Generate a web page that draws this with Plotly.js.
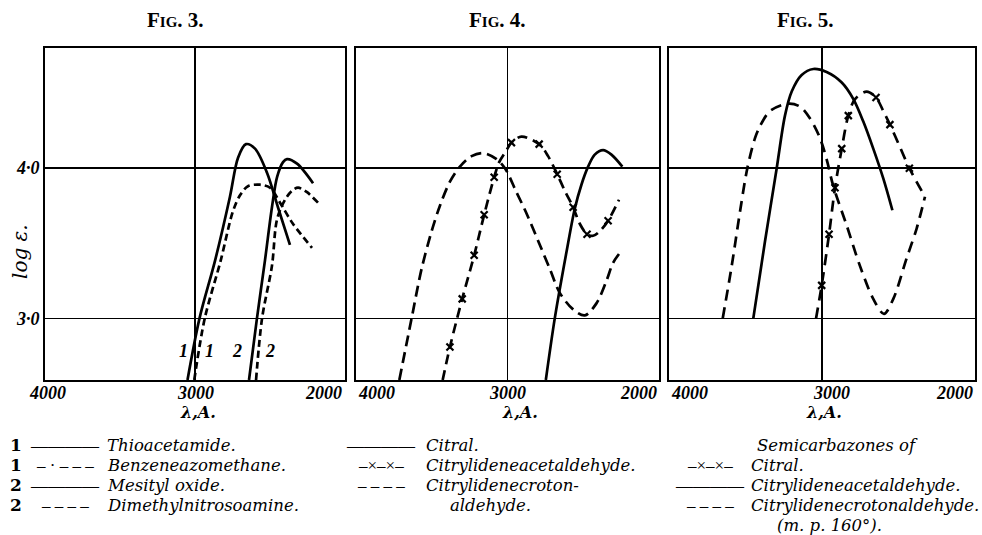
<!DOCTYPE html>
<html>
<head>
<meta charset="utf-8">
<script src="https://cdn.plot.ly/plotly-3.0.1.min.js"></script>
<style>
html,body{margin:0;padding:0;background:#fff;}
#chart{width:982px;height:535px;}
</style>
</head>
<body>
<div id="chart"></div>
<script>
// ---------------- DATA ----------------
// Fig. 3
const fig3Title = "Fig. 3.";
const thioacetamideX = [3050, 2970, 2865, 2767, 2713, 2660, 2600, 2520, 2447, 2367];
const thioacetamideY = [2.59, 3.00, 3.39, 3.81, 4.07, 4.16, 4.13, 3.97, 3.74, 3.49];
const benzeneazoX = [3005, 2935, 2830, 2748, 2700, 2647, 2567, 2500, 2433, 2347, 2220];
const benzeneazoY = [2.59, 3.00, 3.38, 3.71, 3.82, 3.88, 3.89, 3.87, 3.77, 3.63, 3.47];
const mesitylX = [2640, 2587, 2533, 2487, 2453, 2413, 2387, 2320, 2213];
const mesitylY = [2.59, 3.00, 3.39, 3.74, 3.94, 4.04, 4.06, 4.03, 3.90];
const dimethylX = [2593, 2553, 2487, 2453, 2400, 2353, 2313, 2253, 2180];
const dimethylY = [2.59, 3.00, 3.35, 3.66, 3.79, 3.85, 3.87, 3.84, 3.77];
const fig3CurveLabels = ["1", "1", "2", "2"];
const fig3CurveLabelX = [3078, 2905, 2722, 2500];
const fig3CurveLabelY = [2.78, 2.78, 2.78, 2.78];

// Fig. 4
const fig4Title = "Fig. 4.";
const citralX = [2747, 2688, 2611, 2556, 2512, 2468, 2424, 2369, 2314, 2242];
const citralY = [2.59, 3.00, 3.44, 3.73, 3.89, 4.01, 4.09, 4.12, 4.09, 4.01];
const acetaldX = [3428, 3380, 3299, 3220, 3154, 3088, 3055, 3006, 2974, 2908, 2791, 2732, 2672, 2622, 2567, 2523, 2475, 2435, 2391, 2336, 2264];
const acetaldY = [2.59, 2.81, 3.13, 3.42, 3.69, 3.94, 4.04, 4.12, 4.17, 4.21, 4.16, 4.08, 3.96, 3.85, 3.74, 3.63, 3.56, 3.55, 3.58, 3.65, 3.79];
const acetaldMarkX = [3380, 3299, 3220, 3154, 3088, 2974, 2791, 2672, 2567, 2475, 2336];
const acetaldMarkY = [2.81, 3.13, 3.42, 3.69, 3.94, 4.17, 4.16, 3.96, 3.74, 3.56, 3.65];
const crotonX = [3714, 3633, 3567, 3501, 3446, 3380, 3314, 3237, 3160, 3072, 3017, 2941, 2875, 2787, 2721, 2655, 2567, 2490, 2413, 2347, 2303, 2248];
const crotonY = [2.59, 3.00, 3.33, 3.58, 3.75, 3.91, 4.01, 4.08, 4.10, 4.06, 4.00, 3.84, 3.70, 3.49, 3.33, 3.17, 3.06, 3.02, 3.10, 3.25, 3.37, 3.45];

// Fig. 5 (semicarbazones)
const fig5Title = "Fig. 5.";
const semCitralX = [3039, 3002, 2954, 2915, 2871, 2828, 2784, 2708, 2647, 2599, 2556, 2490, 2429, 2327];
const semCitralY = [3.00, 3.22, 3.56, 3.87, 4.13, 4.35, 4.46, 4.51, 4.47, 4.38, 4.29, 4.14, 4.00, 3.81];
const semCitralMarkX = [3002, 2954, 2915, 2871, 2828, 2647, 2556, 2429];
const semCitralMarkY = [3.22, 3.56, 3.87, 4.13, 4.35, 4.47, 4.29, 4.00];
const semAcetaldX = [3449, 3373, 3296, 3242, 3198, 3133, 3057, 2970, 2871, 2795, 2730, 2665, 2599, 2540];
const semAcetaldY = [3.00, 3.51, 4.00, 4.35, 4.51, 4.62, 4.66, 4.64, 4.57, 4.46, 4.31, 4.13, 3.93, 3.72];
const semCrotonX = [3649, 3590, 3536, 3488, 3438, 3405, 3340, 3220, 3144, 3078, 3013, 2970, 2926, 2839, 2752, 2665, 2595, 2534, 2447, 2381, 2327];
const semCrotonY = [3.00, 3.35, 3.71, 4.00, 4.20, 4.28, 4.38, 4.43, 4.41, 4.33, 4.20, 4.06, 3.88, 3.62, 3.35, 3.13, 3.03, 3.13, 3.40, 3.60, 3.81];

// Axes labels
const xTickVals = [4000, 3000, 2000];
const xTickText = ["4000", "3000", "2000"];
const yTickVals = [3, 4];
const yTickText = ["3·0", "4·0"];
const xAxisLabel = "λ,A.";
const yAxisLabel = "log ε.";

// Legend texts
const fig3Legend = [
  ["1", "————", "Thioacetamide."],
  ["1", "– · – – –", "Benzeneazomethane."],
  ["2", "————", "Mesityl oxide."],
  ["2", "– – – –", "Dimethylnitrosoamine."]
];
const fig4Legend = [
  ["————", "Citral."],
  ["–×–×–", "Citrylideneacetaldehyde."],
  ["– – – –", "Citrylidenecroton-"],
  ["", "aldehyde."]
];
const fig5Legend = [
  ["", "Semicarbazones of"],
  ["–×–×–", "Citral."],
  ["————", "Citrylideneacetaldehyde."],
  ["– – – –", "Citrylidenecrotonaldehyde."],
  ["", "(m. p. 160°)."]
];

// ---------------- STYLE / LAYOUT ----------------
const W = 982, H = 535;
const PX = x => x / W;
const PY = y => 1 - y / H;
const SERIF = "Liberation Serif, Times New Roman, serif";
const WSERIF = "DejaVu Serif, serif";
const LW = 2.7;

function line(x, y, xa, ya, dash) {
  return {x: x, y: y, xaxis: xa, yaxis: ya, mode: 'lines', type: 'scatter',
    line: {color: '#000', width: LW, dash: dash || 'solid', shape: 'spline', smoothing: 0.9},
    hoverinfo: 'skip', showlegend: false};
}
function marks(x, y, xa, ya) {
  return {x: x, y: y, xaxis: xa, yaxis: ya, mode: 'markers', type: 'scatter',
    marker: {symbol: 'x-thin', size: 7, color: '#000', line: {color: '#000', width: 2.2}},
    hoverinfo: 'skip', showlegend: false};
}

const data = [
  line(thioacetamideX, thioacetamideY, 'x', 'y'),
  line(benzeneazoX, benzeneazoY, 'x', 'y', '7px,4px'),
  line(mesitylX, mesitylY, 'x', 'y'),
  line(dimethylX, dimethylY, 'x', 'y', '7px,4px'),
  line(citralX, citralY, 'x2', 'y2'),
  line(acetaldX, acetaldY, 'x2', 'y2', '10px,6px'),
  marks(acetaldMarkX, acetaldMarkY, 'x2', 'y2'),
  line(crotonX, crotonY, 'x2', 'y2', '11px,6px'),
  line(semCitralX, semCitralY, 'x3', 'y3', '11px,7px'),
  marks(semCitralMarkX, semCitralMarkY, 'x3', 'y3'),
  line(semAcetaldX, semAcetaldY, 'x3', 'y3'),
  line(semCrotonX, semCrotonY, 'x3', 'y3', '11px,7px')
];

const xDomains = [[45 / W, 345 / W], [356 / W, 659 / W], [669 / W, 975 / W]];
const yDomain = [1 - 380 / H, 1 - 48 / H];

function xax(i) {
  return {domain: xDomains[i], range: [4000, 2000], tickvals: [3000], showticklabels: false,
    ticks: '', showgrid: true, gridcolor: '#000', gridwidth: 1.5, zeroline: false,
    showline: true, mirror: true, linecolor: '#000', linewidth: 2, fixedrange: true,
    anchor: i === 0 ? 'y' : 'y' + (i + 1)};
}
function yax(i) {
  return {domain: yDomain, range: [2.59, 4.8], tickvals: yTickVals, ticktext: yTickText,
    showticklabels: i === 0, ticks: '',
    tickfont: {family: SERIF, size: 18, style: 'italic', weight: 'bold', color: '#000'},
    showgrid: true, gridcolor: '#000', gridwidth: 1.5, zeroline: false,
    showline: true, mirror: true, linecolor: '#000', linewidth: 2, fixedrange: true,
    anchor: i === 0 ? 'x' : 'x' + (i + 1)};
}

const ann = [];
const titleFont = {family: SERIF, size: 21, variant: 'small-caps', weight: 'bold', color: '#000'};
[[fig3Title, 175], [fig4Title, 497], [fig5Title, 805]].forEach(t => {
  ann.push({text: t[0], x: PX(t[1]), y: PY(20), xref: 'paper', yref: 'paper',
    xanchor: 'center', yanchor: 'middle', showarrow: false, font: titleFont});
});

const tickFont = {family: SERIF, size: 18, style: 'italic', weight: 'bold', color: '#000'};
const tickAnchors = [
  ['center', 'center', 'right'],
  ['left', 'center', 'right'],
  ['left', 'center', 'right']
];
const tickShift = [[2, 0, -1], [0, 0, 0], [0, 9, 0]];
const lamFont = {family: WSERIF, size: 16, style: 'italic', weight: 'bold', color: '#000'};
['x', 'x2', 'x3'].forEach((xr, i) => {
  xTickVals.forEach((v, j) => {
    ann.push({text: xTickText[j], x: v, xref: xr, y: PY(393), yref: 'paper',
      xanchor: tickAnchors[i][j], yanchor: 'middle', xshift: tickShift[i][j],
      showarrow: false, font: tickFont});
  });
  ann.push({text: xAxisLabel, x: 3000, xref: xr, y: PY(412), yref: 'paper',
    xanchor: 'center', yanchor: 'middle', xshift: [3, 12, 2][i],
    showarrow: false, font: lamFont});
});

ann.push({text: yAxisLabel, x: PX(20), y: PY(252), xref: 'paper', yref: 'paper',
  textangle: -90, showarrow: false, xanchor: 'center', yanchor: 'middle',
  font: {family: WSERIF, size: 20, style: 'italic', color: '#000'}});

fig3CurveLabels.forEach((t, i) => {
  ann.push({text: t, x: fig3CurveLabelX[i], y: fig3CurveLabelY[i], xref: 'x', yref: 'y',
    showarrow: false, xanchor: 'center', yanchor: 'middle',
    font: {family: SERIF, size: 18, style: 'italic', weight: 'bold', color: '#000'}});
});

const legFont = {family: WSERIF, size: 16.5, style: 'italic', color: '#000'};
const legNumFont = {family: WSERIF, size: 17, weight: 'bold', color: '#000'};
const sampleFont = {family: SERIF, size: 17, color: '#000'};
function legendRow(num, numX, sample, sampleX0, sampleX1, txt, txtX, y) {
  if (num) ann.push({text: num, x: PX(numX), y: PY(y), xref: 'paper', yref: 'paper',
    xanchor: 'center', yanchor: 'middle', showarrow: false, font: legNumFont});
  if (sample) ann.push({text: sample, x: PX((sampleX0 + sampleX1) / 2), y: PY(y), xref: 'paper', yref: 'paper',
    xanchor: 'center', yanchor: 'middle', showarrow: false, font: sampleFont});
  ann.push({text: txt, x: PX(txtX), y: PY(y), xref: 'paper', yref: 'paper',
    xanchor: 'left', yanchor: 'middle', showarrow: false, font: legFont});
}
const rowY = [445, 465, 485, 505, 525];
fig3Legend.forEach((r, i) => legendRow(r[0], 16, r[1], 32, 97, r[2], 105, rowY[i]));
fig4Legend.forEach((r, i) => legendRow('', 0, r[0], 348, 413, r[1], i === 3 ? 448 : 424, rowY[i]));
fig5Legend.forEach((r, i) => legendRow('', 0, r[0], 678, 742, r[1], i === 0 ? 755 : (i === 4 ? 775 : 749), rowY[i]));

const layout = {
  width: W, height: H, margin: {l: 0, r: 0, t: 0, b: 0},
  paper_bgcolor: '#fff', plot_bgcolor: '#fff', showlegend: false,
  xaxis: xax(0), xaxis2: xax(1), xaxis3: xax(2),
  yaxis: yax(0), yaxis2: yax(1), yaxis3: yax(2),
  annotations: ann
};

Plotly.newPlot('chart', data, layout, {staticPlot: true, displayModeBar: false});
</script>
</body>
</html>
